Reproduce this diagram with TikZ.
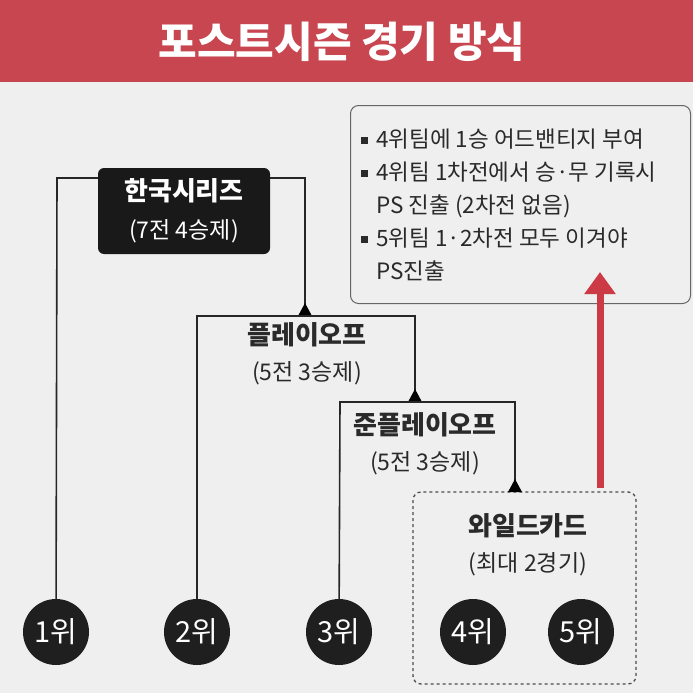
\documentclass[tikz,border=0pt]{standalone}
\usepackage{fontspec}
\setmainfont{Noto Sans CJK KR}
\usetikzlibrary{arrows.meta}
\definecolor{bg}{HTML}{EFEFEF}
\definecolor{redbar}{HTML}{C8464F}
\definecolor{txt}{HTML}{2A2A2A}
\definecolor{arrowred}{HTML}{CC3B45}
\tikzset{
 rank/.style={circle,fill=black!88,text=white,minimum size=66pt,inner sep=0pt,font=\fontsize{29}{30}\selectfont},
 line/.style={draw=black!85,line width=1.6pt},
 lbl/.style={align=center,text=txt,font=\fontsize{26}{36}\selectfont},
 tri/.pic={\fill[black] (-7,0) -- (7,0) -- (0,-13) -- cycle;}
}
\newcommand{\sqb}{\rule[4pt]{7pt}{7pt}\hspace{8pt}}
\begin{document}
\begin{tikzpicture}[x=1pt,y=-1pt]
\useasboundingbox (0,0) rectangle (693,693);
\fill[bg] (0,0) rectangle (693,693);
\fill[redbar] (0,0) rectangle (693,82);
\node[text=white,font=\bfseries\fontsize{42}{44}\selectfont] (title) at (342,42) {포스트시즌 경기 방식};
% note box
\node[draw=black!60,line width=1pt,fill=bg,rounded corners=8pt,minimum width=340pt,minimum height=198pt,anchor=north west] (note) at (350,105) {};
\node[anchor=north west,align=left,text=txt,font=\fontsize{22.5}{33}\selectfont,inner sep=0pt] (notetext) at (361,129) {%
\sqb 4위팀에 1승 어드밴티지 부여\\
\sqb 4위팀 1차전에서 승·무 기록시\\
\hspace{15pt}PS 진출 (2차전 없음)\\
\sqb 5위팀 1·2차전 모두 이겨야\\
\hspace{15pt}PS진출};
% dashed wildcard box
\draw[dashed,line width=1.3pt,draw=black!70,rounded corners=8pt] (413,492) rectangle (636,684);
\coordinate (wctop) at (515,492);
% rank circles
\node[rank] (r1) at (56,632) {1위};
\node[rank] (r2) at (197,632) {2위};
\node[rank] (r3) at (339,632) {3위};
\node[rank] (r4) at (473,632) {4위};
\node[rank] (r5) at (581,632) {5위};
% labels
\node[fill=black!90,rounded corners=6pt,minimum width=172pt,minimum height=86pt,text=white,align=center,font=\fontsize{26}{38}\selectfont] (ks) at (184,211) {\textbf{한국시리즈}\\{\fontsize{23}{26}\selectfont(7전 4승제)}};
\node[lbl] (po) at (307,354) {\textbf{플레이오프}\\{\fontsize{23}{26}\selectfont(5전 3승제)}};
\node[lbl] (jpo) at (425,444) {\textbf{준플레이오프}\\{\fontsize{23}{26}\selectfont(5전 3승제)}};
\node[lbl] (wc) at (528,545) {\textbf{와일드카드}\\{\fontsize{23}{26}\selectfont(최대 2경기)}};
% brackets
\draw[line] (r1) -- (57,178) -- (ks.west |- 0,178);
\draw[line] (ks.east |- 0,178) -- (305,178) -- (305,305);
\pic at (305,316) {tri};
\draw[line] (r2) -- (197,316) -- (415,316) -- (415,395);
\pic at (415,402) {tri};
\draw[line] (r3) -- (340,402) -- (515,402) -- (515,485);
\pic at (wctop) {tri};
% red arrow
\coordinate (arS) at (600,488);
\coordinate (arE) at (600,272);
\draw[arrowred,line width=7pt,-{Triangle[length=22pt,width=30pt]}] (arS) -- (arE);
\end{tikzpicture}
\end{document}
